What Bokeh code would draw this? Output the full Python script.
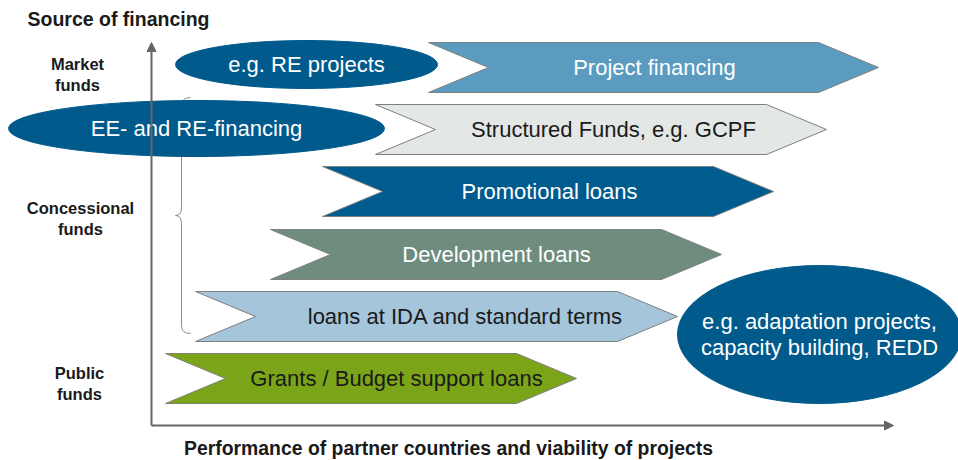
from bokeh.plotting import figure
from bokeh.models import Range1d, Arrow, NormalHead, ColumnDataSource
from bokeh.core.properties import value
from bokeh.embed import file_html
from bokeh.resources import INLINE

# ---- data ----
chev_labels = ["Project financing", "Structured Funds, e.g. GCPF", "Promotional loans",
               "Development loans", "loans at IDA and standard terms", "Grants / Budget support loans"]
chev_left = [428, 375, 322, 270, 195, 165]
chev_right = [878, 826, 773, 721, 677, 576]
chev_y = [67, 129, 191, 254, 316, 378]
chev_label_x = [654, 613, 549, 496, 465, 396]
chev_fill = ["#5B9BC0", "#E3E7E5", "#005B8E", "#6E8D7F", "#A4C5DA", "#7BA418"]
chev_text = ["white", "#1a1a1a", "white", "white", "#1a1a1a", "#1a1a1a"]

ell_labels = ["e.g. RE projects", "EE- and RE-financing", "e.g. adaptation projects,\ncapacity building, REDD"]
ell_x = [306, 196, 819]
ell_y = [64, 128, 334]
ell_w = [262, 376, 284]
ell_h = [48, 56, 138]

row_labels = ["Market\nfunds", "Concessional\nfunds", "Public\nfunds"]
row_label_x = [77, 80, 79]
row_label_y = [74, 218, 383]

FONT = "Liberation Sans"
HALF = 25
TIP = 60

p = figure(width=958, height=460, output_backend="svg", toolbar_location=None,
           x_range=Range1d(0, 958), y_range=Range1d(460, 0), min_border=0)
p.axis.visible = False
p.grid.visible = False
p.outline_line_color = None
p.background_fill_color = "white"
p.border_fill_color = "white"

# axes arrows
ax_col = "#666666"
p.add_layout(Arrow(end=NormalHead(size=9, fill_color=ax_col, line_color=ax_col),
                   x_start=151, y_start=425, x_end=151, y_end=42,
                   line_color=ax_col, line_width=2))
p.add_layout(Arrow(end=NormalHead(size=9, fill_color=ax_col, line_color=ax_col),
                   x_start=151, y_start=425, x_end=893, y_end=425,
                   line_color=ax_col, line_width=2))

# brace
bc = "#8C8C8C"
p.quadratic(x0=[190, 181, 175, 181], y0=[97, 207, 215, 325],
            x1=[181, 175, 181, 190], y1=[105, 215, 223, 333],
            cx=[181, 181, 181, 181], cy=[97, 215, 215, 333], line_color=bc, line_width=1)
p.segment(x0=[181, 181], y0=[105, 223], x1=[181, 181], y1=[207, 325], line_color=bc, line_width=1)

# chevrons
xs, ys = [], []
for L, R, y in zip(chev_left, chev_right, chev_y):
    xs.append([L, R - TIP, R, R - TIP, L, L + TIP])
    ys.append([y - HALF, y - HALF, y, y + HALF, y + HALF, y])
src = ColumnDataSource(dict(xs=xs, ys=ys, fill=chev_fill))
p.patches("xs", "ys", source=src, fill_color="fill", line_color="#7F7F7F", line_width=1)

p.text(x=chev_label_x, y=chev_y, text=chev_labels, text_color=chev_text,
       text_font=value(FONT), text_font_size="22px", text_align="center", text_baseline="middle")

# ellipses
p.ellipse(x=ell_x, y=ell_y, width=ell_w, height=ell_h, fill_color="#005A8C", line_color="#005A8C")
p.text(x=ell_x, y=ell_y, text=ell_labels, text_color="white", text_font=value(FONT),
       text_font_size="22px", text_align="center", text_baseline="middle", text_line_height=1.05)

# row labels
p.text(x=row_label_x, y=row_label_y, text=row_labels, text_color="#1a1a1a", text_font=value(FONT),
       text_font_size="16.5px", text_font_style="bold", text_align="center", text_baseline="middle",
       text_line_height=1.15)

# titles
p.text(x=[27], y=[18], text=["Source of financing"], text_color="#1a1a1a", text_font=value(FONT),
       text_font_size="19.5px", text_font_style="bold", text_align="left", text_baseline="middle")
p.text(x=[448], y=[447], text=["Performance of partner countries and viability of projects"],
       text_color="#1a1a1a", text_font=value(FONT), text_font_size="19.4px",
       text_font_style="bold", text_align="center", text_baseline="middle")

open("out.html", "w").write(file_html(p, INLINE))
